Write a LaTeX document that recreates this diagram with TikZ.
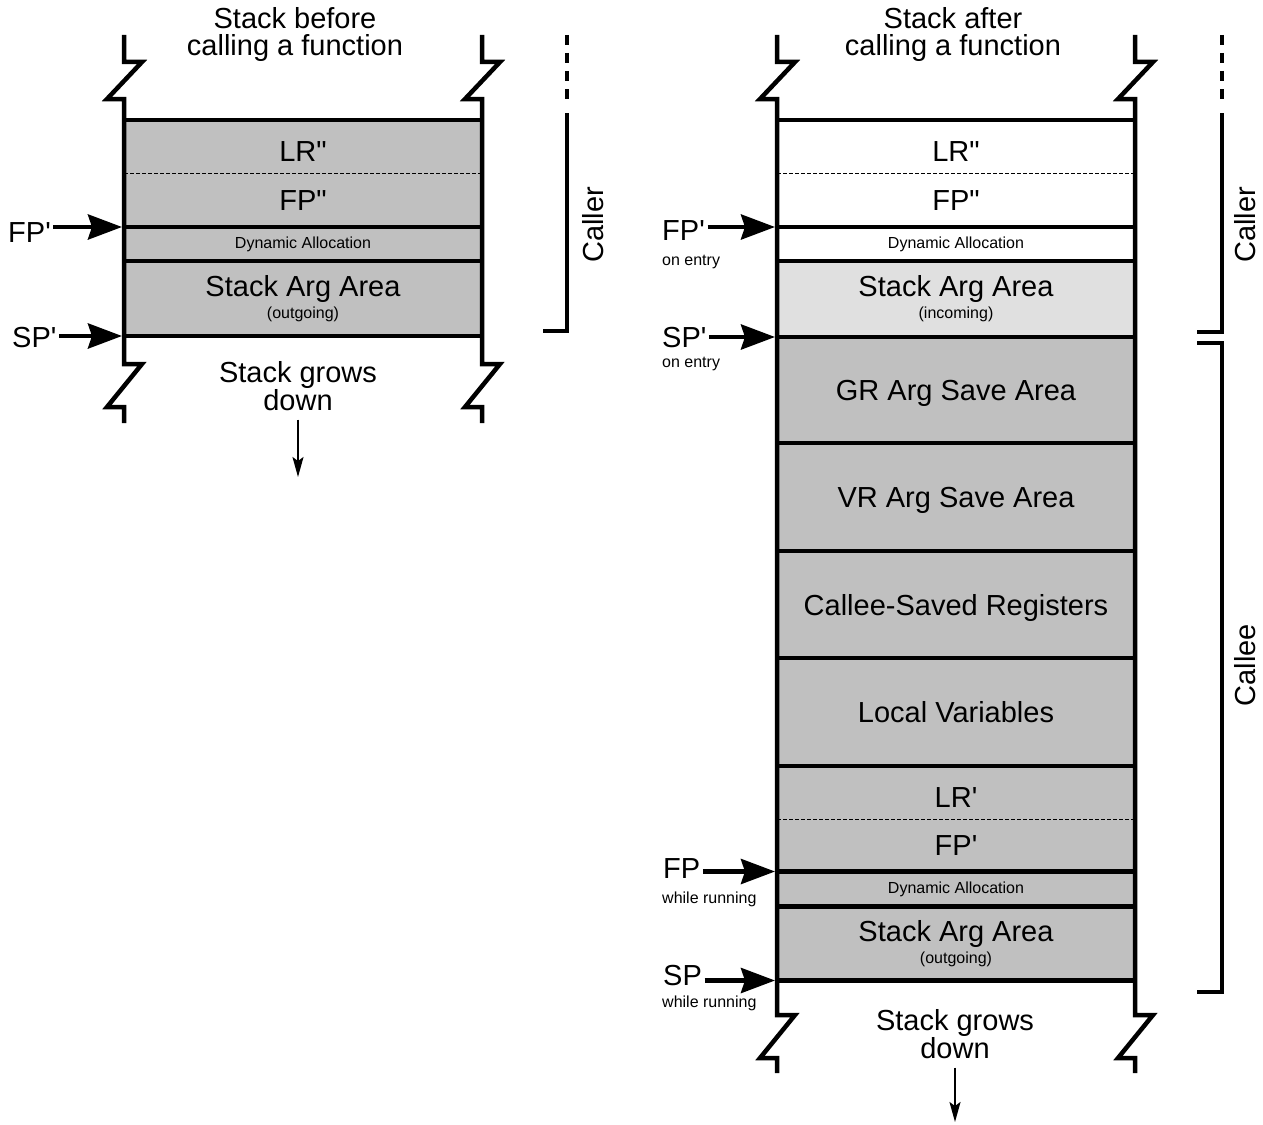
\documentclass[tikz,border=0pt]{standalone}
\usepackage{fontspec}
\setmainfont{Liberation Sans}
\usepackage{tikz}
\usetikzlibrary{arrows.meta,positioning}
\definecolor{slotgray}{HTML}{C0C0C0}
\definecolor{incomgray}{HTML}{E0E0E0}
\newcommand{\bigfont}{\fontsize{29}{33}\selectfont}
\newcommand{\smallfont}{\fontsize{16}{18}\selectfont}
\newcommand{\prm}{\textquotesingle}
\newcommand{\dprm}{\textquotedbl}
\tikzset{
  slotrow/.style={
    draw,
    line width=4.5pt,
    outer sep=0pt,
    inner sep=0pt,
    minimum width=358pt,
    align=center,
    font=\bigfont
  },
  bigrow/.style={
    slotrow,
    fill=slotgray,
    text depth=0pt
  },
  halfrow/.style={
    outer sep=0pt,
    inner sep=0pt,
    minimum width=358pt,
    minimum height=53.5pt,
    font=\bigfont
  },
  framebox/.style={
    draw,
    line width=4.5pt
  },
  wall/.style={
    line width=4.5pt
  },
  slotsplit/.style={
    line width=1pt,
    dash pattern=on 3.5pt off 2.5pt
  },
  bigtext/.style={
    font=\bigfont,
    align=center,
    inner sep=0pt
  },
  ptrlabel/.style={
    font=\bigfont,
    inner sep=2.5pt
  },
  ptrnote/.style={
    font=\smallfont,
    inner sep=2.5pt
  },
  ptrarrow/.style={
    -{Stealth[length=34pt,width=25pt,inset=4pt]},
    line width=4.5pt,
    shorten >=2pt
  },
  growarrow/.style={
    -{Stealth[length=20pt,width=11pt,inset=4pt]},
    line width=1.8pt,
    shorten <=9pt
  },
  bracket/.style={
    line width=4.5pt
  },
  bracketdash/.style={
    line width=4.5pt,
    dash pattern=on 10pt off 8pt
  }
}

\begin{document}
\begin{tikzpicture}[x=1pt, y=-1pt]
    \useasboundingbox (0,0) rectangle (1263,1124);

    % stack before the call
    \node[bigtext, anchor=north] (titleA) at (295,7) {Stack before\\[-6pt]calling a function};
    \node[halfrow, fill=slotgray, text height=29pt, anchor=north west] (lrA) at (124,120) {LR\dprm};
    \node[halfrow, fill=slotgray, below=0pt of lrA] (fpA) {FP\dprm};
    \node[slotrow, fill=slotgray, minimum height=34pt, below=0pt of fpA] (dynA) {\smallfont Dynamic Allocation};
    \node[slotrow, fill=slotgray, minimum height=75pt, below=0pt of dynA] (argA) {Stack Arg Area\\[-11pt]\smallfont (outgoing)};
    \draw[framebox] (lrA.north west) rectangle (fpA.south east);
    \draw[slotsplit] (lrA.south west) -- (lrA.south east);

    \draw[wall] (124,35) -- (124,62) -- (142,62) -- (107,99) -- (124,99) -- (124,364) -- (142,364) -- (107,407) -- (124,407) -- (124,423);
    \draw[wall] (482,35) -- (482,62) -- (500,62) -- (465,99) -- (482,99) -- (482,364) -- (500,364) -- (465,407) -- (482,407) -- (482,423);

    \node[ptrlabel, anchor=base west] (fpptrA) at (5.5,242) {FP\prm};
    \node[ptrlabel, anchor=base west] (spptrA) at (9.5,347) {SP\prm};
    \draw[ptrarrow] (fpptrA.east |- dynA.north west) -- (dynA.north west);
    \draw[ptrarrow] (spptrA.east |- argA.south west) -- (argA.south west);

    \node[bigtext, anchor=north] (growA) at (298,361) {Stack grows\\[-5pt]down};
    \coordinate (growAend) at (298,477);
    \draw[growarrow] (growA.south) -- (growAend);

    \draw[bracketdash] (567,35) -- (567,103);
    \draw[bracket] (567,113) -- (567,331) -- (543,331);
    \node[bigtext, rotate=90] (callerA) at (593,225) {Caller};

    % stack after the call
    \node[bigtext, anchor=north] (titleB) at (953,7) {Stack after\\[-6pt]calling a function};
    \node[halfrow, fill=white, text height=29pt, anchor=north west] (lrB) at (777,120) {LR\dprm};
    \node[halfrow, fill=white, below=0pt of lrB] (fpB) {FP\dprm};
    \node[slotrow, fill=white, minimum height=34pt, below=0pt of fpB] (dynB) {\smallfont Dynamic Allocation};
    \node[slotrow, fill=incomgray, minimum height=76pt, below=0pt of dynB] (argB) {Stack Arg Area\\[-11pt]\smallfont (incoming)};
    \node[bigrow, minimum height=106pt, below=0pt of argB] (grB) {GR Arg Save Area};
    \node[bigrow, minimum height=108pt, below=0pt of grB] (vrB) {VR Arg Save Area};
    \node[bigrow, minimum height=107pt, below=0pt of vrB] (csB) {Callee-Saved Registers};
    \node[bigrow, minimum height=108pt, below=0pt of csB] (locB) {Local Variables};
    \node[halfrow, fill=slotgray, text height=29pt, below=0pt of locB] (lrC) {LR\prm};
    \node[halfrow, fill=slotgray, minimum height=52pt, below=0pt of lrC] (fpC) {FP\prm};
    \node[slotrow, fill=slotgray, minimum height=35pt, below=0pt of fpC] (dynC) {\smallfont Dynamic Allocation};
    \node[slotrow, fill=slotgray, minimum height=74pt, below=0pt of dynC] (argC) {Stack Arg Area\\[-11pt]\smallfont (outgoing)};
    \draw[framebox] (lrB.north west) rectangle (fpB.south east);
    \draw[slotsplit] (lrB.south west) -- (lrB.south east);
    \draw[framebox] (lrC.north west) rectangle (fpC.south east);
    \draw[slotsplit] (lrC.south west) -- (lrC.south east);

    \draw[wall] (777,35) -- (777,62) -- (795,62) -- (760,99) -- (777,99) -- (777,1015) -- (795,1015) -- (760,1058) -- (777,1058) -- (777,1073);
    \draw[wall] (1135,35) -- (1135,62) -- (1153,62) -- (1118,99) -- (1135,99) -- (1135,1015) -- (1153,1015) -- (1118,1058) -- (1135,1058) -- (1135,1073);

    \node[ptrlabel, anchor=base west] (fpptrB) at (659.5,240) {FP\prm};
    \node[ptrnote, anchor=base west] (fpnoteB) at (659.5,265) {on entry};
    \node[ptrlabel, anchor=base west] (spptrB) at (659.5,347) {SP\prm};
    \node[ptrnote, anchor=base west] (spnoteB) at (659.5,367) {on entry};
    \node[ptrlabel, anchor=base west] (fpptrC) at (660.5,878) {FP};
    \node[ptrnote, anchor=base west] (fpnoteC) at (659.5,903) {while running};
    \node[ptrlabel, anchor=base west] (spptrC) at (660.5,985) {SP};
    \node[ptrnote, anchor=base west] (spnoteC) at (659.5,1007) {while running};
    \draw[ptrarrow] (fpptrB.east |- dynB.north west) -- (dynB.north west);
    \draw[ptrarrow] (spptrB.east |- argB.south west) -- (argB.south west);
    \draw[ptrarrow] (fpptrC.east |- dynC.north west) -- (dynC.north west);
    \draw[ptrarrow] (spptrC.east |- argC.south west) -- (argC.south west);

    \node[bigtext, anchor=north] (growB) at (955,1009) {Stack grows\\[-5pt]down};
    \coordinate (growBend) at (955,1122);
    \draw[growarrow] (growB.south) -- (growBend);

    \draw[bracketdash] (1222,35) -- (1222,103);
    \draw[bracket] (1222,113) -- (1222,332) -- (1197,332);
    \draw[bracket] (1197,343) -- (1222,343) -- (1222,992) -- (1197,992);
    \node[bigtext, rotate=90] (callerB) at (1245,225) {Caller};
    \node[bigtext, rotate=90] (calleeB) at (1245,665) {Callee};
\end{tikzpicture}
\end{document}
